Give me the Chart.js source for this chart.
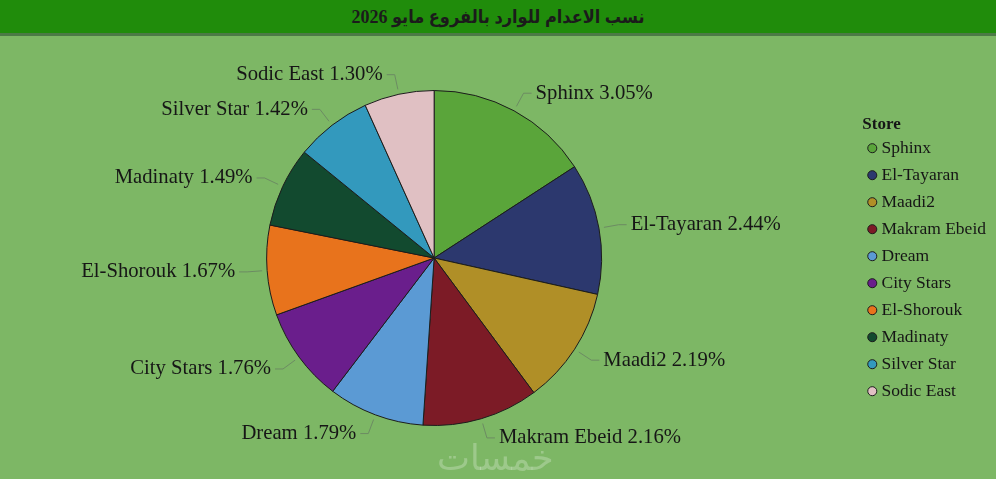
<!DOCTYPE html>
<html lang="ar">
<head>
    <meta charset="UTF-8">
    <title>نسب الاعدام للوارد بالفروع مايو 2026</title>
    <script src="https://cdn.jsdelivr.net/npm/chart.js"></script>
    <style>
        html, body {
            margin: 0;
            padding: 0;
            width: 996px;
            height: 479px;
            overflow: hidden;
            background-color: #7db765;
        }

        #header {
            height: 33px;
            line-height: 34px;
            background-color: #208c0b;
            border-bottom: 3px solid #4c7a46;
            text-align: center;
            font-family: 'Liberation Serif', 'DejaVu Sans Condensed', 'DejaVu Sans', serif;
            font-weight: bold;
            font-size: 18px;
            color: #1b1b1b;
        }

        #chart-box {
            position: relative;
            width: 996px;
            height: 443px;
        }

        #watermark {
            position: absolute;
            left: 437px;
            top: 402px;
            font-family: 'DejaVu Sans', sans-serif;
            font-size: 35px;
            color: rgba(255, 255, 255, 0.25);
        }
    </style>
</head>
<body>
    <div id="header" dir="rtl">نسب الاعدام للوارد بالفروع مايو 2026</div>

    <div id="chart-box">
        <canvas id="chart"></canvas>
        <div id="watermark" dir="rtl">خمسات</div>
    </div>

    <script>
        const stores = ['Sphinx', 'El-Tayaran', 'Maadi2', 'Makram Ebeid', 'Dream',
                        'City Stars', 'El-Shorouk', 'Madinaty', 'Silver Star', 'Sodic East'];
        const percentages = [3.05, 2.44, 2.19, 2.16, 1.79, 1.76, 1.67, 1.49, 1.42, 1.30];
        const sliceColors = ['#5aa53a', '#2c386e', '#b08f27', '#7c1b26', '#5b9ad4',
                             '#6a1e8c', '#e8731c', '#124a2f', '#3399bd', '#e0c0c3'];

        const serif = "'Liberation Serif', 'Times New Roman', serif";

        // etiquetas fuera del pastel con linea guia
        const outsideLabels = {
            id: 'outsideLabels',
            afterDatasetsDraw(chart) {
                const ctx = chart.ctx;
                const meta = chart.getDatasetMeta(0);
                ctx.save();
                ctx.font = '20.7px ' + serif;
                ctx.textBaseline = 'middle';
                meta.data.forEach((arc, i) => {
                    const mid = (arc.startAngle + arc.endAngle) / 2;
                    const r = arc.outerRadius;
                    const cos = Math.cos(mid);
                    const sin = Math.sin(mid);
                    const x1 = arc.x + cos * (r + 5);
                    const y1 = arc.y + sin * (r + 5);
                    const x2 = arc.x + cos * (r + 20);
                    const y2 = arc.y + sin * (r + 20);
                    const right = cos >= 0;
                    const x3 = x2 + (right ? 8 : -8);

                    ctx.strokeStyle = '#6c8b63';
                    ctx.lineWidth = 1;
                    ctx.beginPath();
                    ctx.moveTo(x1, y1);
                    ctx.lineTo(x2, y2);
                    ctx.lineTo(x3, y2);
                    ctx.stroke();

                    ctx.fillStyle = '#161616';
                    ctx.textAlign = right ? 'left' : 'right';
                    ctx.fillText(stores[i] + ' ' + percentages[i].toFixed(2) + '%',
                                 x3 + (right ? 4 : -4), y2);
                });
                ctx.restore();
            }
        };

        new Chart(document.getElementById('chart'), {
            type: 'pie',
            data: {
                labels: stores,
                datasets: [{
                    data: percentages,
                    backgroundColor: sliceColors,
                    borderColor: '#1c1c1c',
                    borderWidth: 1
                }]
            },
            options: {
                responsive: true,
                maintainAspectRatio: false,
                animation: false,
                layout: {
                    padding: { top: 54, bottom: 53, left: 6, right: 0 }
                },
                plugins: {
                    legend: {
                        position: 'right',
                        align: 'center',
                        title: {
                            display: true,
                            text: 'Store',
                            position: 'start',
                            color: '#161616',
                            font: { family: serif, size: 17, weight: 'bold' },
                            padding: { top: 10, bottom: -7 }
                        },
                        labels: {
                            usePointStyle: true,
                            pointStyle: 'circle',
                            boxWidth: 1,
                            boxHeight: 6.4,
                            padding: 9.5,
                            color: '#161616',
                            font: { family: serif, size: 17.5 },
                            generateLabels(chart) {
                                return stores.map((name, i) => ({
                                    text: name,
                                    fillStyle: sliceColors[i],
                                    strokeStyle: '#1c1c1c',
                                    lineWidth: 1,
                                    pointStyle: 'circle',
                                    hidden: false,
                                    index: i
                                }));
                            }
                        }
                    },
                    tooltip: { enabled: false }
                }
            },
            plugins: [outsideLabels]
        });
    </script>
</body>
</html>
